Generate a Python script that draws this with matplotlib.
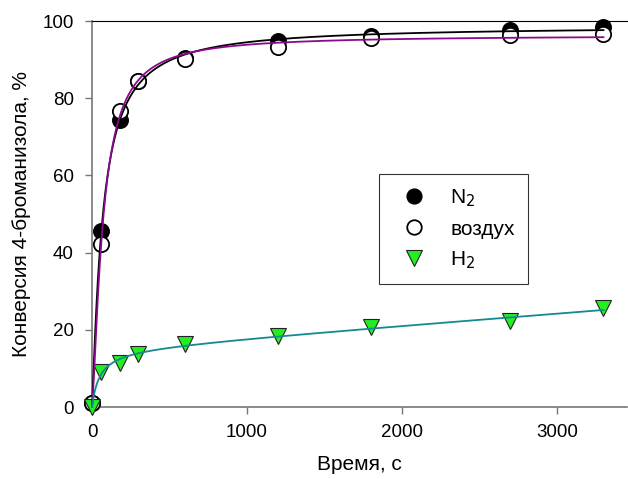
import numpy as np
import matplotlib
matplotlib.use("Agg")
import matplotlib.pyplot as plt

plt.rcParams['font.family'] = ['Liberation Sans', 'DejaVu Sans']

time_s = [0, 60, 180, 300, 600, 1200, 1800, 2700, 3300]
conv_n2 = [1.0, 45.5, 74.3, 84.5, 90.5, 94.8, 96.0, 97.6, 98.4]
conv_air = [1.0, 42.3, 76.7, 84.5, 90.2, 93.2, 95.5, 96.3, 96.6]
conv_h2 = [0.0, 9.1, 11.4, 13.8, 16.4, 18.4, 20.8, 22.2, 25.6]

xticks = [0, 1000, 2000, 3000]
yticks = [0, 20, 40, 60, 80, 100]
xlabel = "Время, с"
ylabel = "Конверсия 4-броманизола, %"
labels = ["N$_2$", "воздух", "H$_2$"]


def fit_curve(x, y, linear_term):
    """Least-squares fit of a*x^n/(b^n+x^n) (+ c*x) to the data."""
    x = np.asarray(x, float)
    y = np.asarray(y, float)
    best = None
    ns = [1.0] if linear_term else np.linspace(0.8, 1.6, 41)
    for n in ns:
        for b in np.linspace(2, 400, 400):
            cols = [x ** n / (b ** n + x ** n)]
            if linear_term:
                cols.append(x)
            A = np.vstack(cols).T
            coef, *_ = np.linalg.lstsq(A, y, rcond=None)
            r = np.sum((A @ coef - y) ** 2)
            if best is None or r < best[0]:
                best = (r, b, n, coef)
    _, b, n, coef = best

    def f(t):
        t = np.asarray(t, float)
        out = coef[0] * t ** n / (b ** n + t ** n)
        if linear_term:
            out = out + coef[1] * t
        return out
    return f


fig = plt.figure(figsize=(6.28, 4.79), dpi=100)
ax = fig.add_axes([92 / 628, 1 - 407 / 479, 1 - 92 / 628 - 0.002, (407 - 21) / 479])

tt = np.linspace(0, 3300, 800)
f_n2 = fit_curve(time_s, conv_n2, False)
f_air = fit_curve(time_s, conv_air, False)
f_h2 = fit_curve(time_s, conv_h2, True)

ax.plot(time_s, conv_n2, 'o', ms=11, mfc='black', mec='black', mew=1.2, zorder=3, label=labels[0])
ax.plot(time_s, conv_air, 'o', ms=11, mfc='white', mec='black', mew=1.3, zorder=4, label=labels[1])
ax.plot(time_s, conv_h2, 'v', ms=12, mfc='#22ee22', mec='#222222', mew=0.8, zorder=5, label=labels[2])

ax.plot(tt, f_n2(tt), color='black', lw=1.3, zorder=6)
ax.plot(tt, f_air(tt), color='#8b0a8b', lw=1.3, zorder=6)
ax.plot(tt, f_h2(tt), color='#138a90', lw=1.3, zorder=6)

ax.set_xticks(xticks)
ax.set_yticks(yticks)
ax.set_xlabel(xlabel, fontsize=15, labelpad=10)
ax.set_ylabel(ylabel, fontsize=15, labelpad=8)
ax.tick_params(axis='both', labelsize=13.5, direction='out', length=5, color='#777777', width=1)
ax.tick_params(axis='y', pad=8)
ax.tick_params(axis='x', pad=7)

for s in ['left', 'bottom']:
    ax.spines[s].set_color('#777777')
    ax.spines[s].set_linewidth(1.2)
ax.spines['top'].set_color('black')
ax.spines['top'].set_linewidth(0.8)
ax.spines['right'].set_visible(False)
ax.set_xlim(0, 3450)
ax.set_ylim(0, 100)
for l in ax.get_lines():
    l.set_clip_on(False)

leg = ax.legend(loc='upper left', bbox_to_anchor=((380 - 92) / 536, (407 - 174) / 386),
                frameon=True, fancybox=False, edgecolor='black', fontsize=15,
                handletextpad=0.75, borderpad=0.65, labelspacing=0.5, borderaxespad=0,
                markerscale=0.95)
leg.get_frame().set_linewidth(0.8)

fig.savefig('out.png', dpi=100)
